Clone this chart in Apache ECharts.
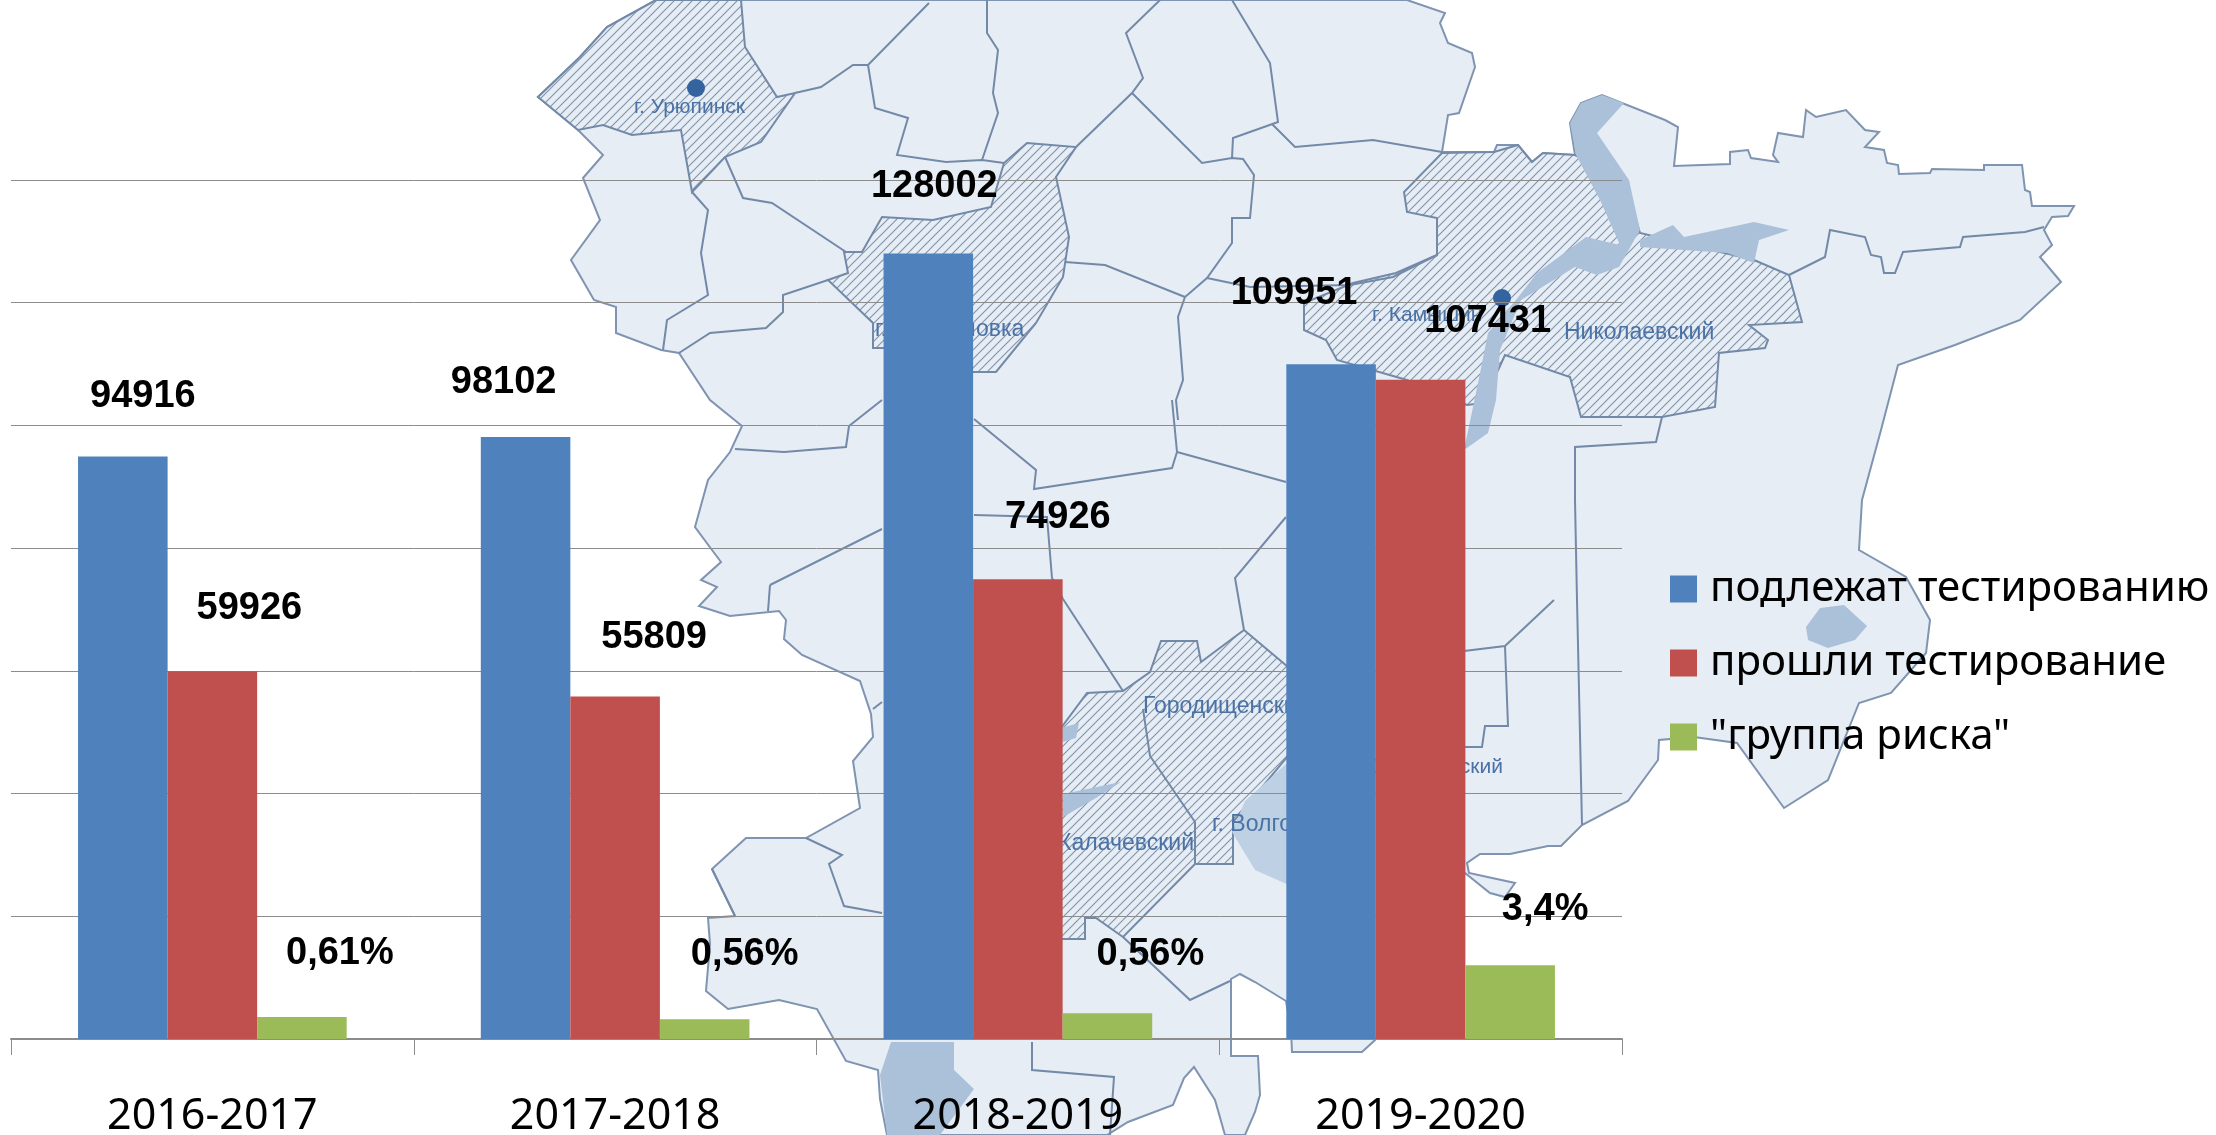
<!DOCTYPE html>
<html>
<head>
<meta charset="utf-8">
<style>html,body{margin:0;background:#fff}#main{width:2216px;height:1135px}</style>
<script src="https://cdn.jsdelivr.net/npm/echarts@6/dist/echarts.min.js"></script>
</head>
<body>
<div id="main"></div>
<script>
var years = ['2016-2017', '2017-2018', '2018-2019', '2019-2020'];
var seriesNames = ['подлежат тестированию', 'прошли тестирование', '"группа риска"'];
var mustTest = [94916, 98102, 128002, 109951];
var passed = [59926, 55809, 74926, 107431];
var riskBars = [3600, 3200, 4200, 12000];
var riskLabels = ['0,61%', '0,56%', '0,56%', '3,4%'];

// label shifts, the labels sit well away from the bars in the source slide
var blueShift = [[20, -41], [-22, -36], [6, -48], [-37, -52]];
var redShift = [[37, -44], [39, -40], [40, -43], [67, -39]];
var greenShift = [[38, -44], [40, -46], [43, -40], [35, -37]];

// background map of the region (decoration only, traced in page pixels)
var mapOutline = [[656,0],[1407,0],[1445,13],[1440,23],[1448,43],[1472,53],[1475,67],[1459,113],[1448,115],[1442,152],[1494,152],[1497,145],[1518,145],[1532,162],[1543,153],[1575,155],[1570,123],[1581,103],[1602,95],[1665,120],[1678,127],[1674,166],[1730,164],[1730,152],[1748,150],[1751,158],[1778,162],[1773,155],[1778,133],[1803,137],[1806,110],[1816,117],[1846,110],[1865,130],[1879,132],[1865,147],[1884,150],[1887,163],[1898,165],[1899,174],[1930,173],[1932,169],[1984,170],[1984,165],[2022,165],[2025,190],[2030,192],[2032,206],[2074,206],[2068,216],[2052,217],[2044,230],[2052,245],[2040,257],[2061,282],[2020,320],[1955,345],[1898,365],[1881,430],[1862,500],[1859,550],[1906,577],[1930,620],[1926,653],[1891,693],[1859,703],[1828,780],[1784,808],[1737,743],[1694,737],[1659,740],[1658,760],[1628,801],[1582,825],[1561,846],[1548,846],[1510,854],[1480,854],[1467,863],[1469,873],[1515,883],[1505,897],[1490,893],[1465,873],[1400,1000],[1375,1040],[1362,1052],[1292,1052],[1291,1030],[1286,1001],[1255,982],[1240,974],[1231,979],[1231,1056],[1258,1056],[1260,1095],[1255,1112],[1245,1135],[1225,1135],[1215,1100],[1194,1067],[1184,1078],[1173,1105],[1128,1122],[1107,1135],[887,1135],[880,1099],[878,1070],[846,1061],[817,1009],[779,1000],[728,1009],[706,991],[710,944],[708,918],[735,916],[712,869],[746,838],[806,838],[860,808],[853,761],[873,737],[871,714],[860,681],[802,655],[784,639],[786,620],[779,611],[730,616],[699,606],[717,587],[701,580],[721,562],[712,550],[695,527],[708,480],[730,452],[742,426],[710,400],[679,353],[661,350],[616,333],[616,307],[594,300],[571,260],[600,220],[583,178],[603,155],[578,130],[538,97],[580,57],[607,27]];
var hatched = [
  [[538,97],[580,57],[607,27],[656,0],[741,0],[745,47],[777,97],[795,93],[761,142],[725,157],[692,192],[681,130],[632,135],[603,125],[578,130]],
  [[1027,143],[1076,147],[1056,177],[1069,237],[1063,277],[1036,323],[996,372],[946,372],[884,348],[873,348],[873,323],[828,280],[848,273],[844,252],[862,252],[882,217],[933,220],[991,207],[1004,163]],
  [[1442,153],[1494,152],[1518,145],[1532,162],[1543,153],[1575,155],[1624,180],[1640,233],[1754,260],[1789,275],[1802,322],[1749,325],[1768,340],[1765,348],[1719,353],[1715,407],[1662,417],[1581,417],[1570,377],[1505,355],[1483,403],[1467,405],[1407,380],[1337,360],[1326,340],[1304,330],[1304,303],[1353,283],[1396,273],[1437,255],[1437,218],[1407,212],[1404,192]],
  [[1161,641],[1197,641],[1201,662],[1244,630],[1288,667],[1288,756],[1233,822],[1233,864],[1195,864],[1123,937],[1096,918],[1085,918],[1085,939],[1061,939],[1061,728],[1087,693],[1123,691],[1150,672]]
];
var water = [
  [[1602,95],[1581,103],[1570,123],[1576,155],[1600,200],[1620,245],[1586,237],[1537,273],[1516,300],[1488,333],[1478,383],[1464,450],[1488,433],[1496,400],[1500,350],[1521,300],[1575,267],[1597,275],[1619,267],[1640,230],[1629,180],[1597,133],[1624,103]],
  [[1640,240],[1673,225],[1684,237],[1754,222],[1789,230],[1759,240],[1754,263],[1727,253],[1640,247]],
  [[1806,627],[1820,608],[1844,605],[1867,626],[1855,640],[1828,648],[1808,640]],
  [[891,1042],[954,1042],[954,1070],[974,1089],[940,1135],[887,1135],[880,1075]],
  [[1061,728],[1079,723],[1076,738],[1063,742]],
  [[1063,794],[1121,782],[1096,798],[1063,817]]
];
var cityBlob = [[1232,832],[1245,801],[1286,764],[1300,764],[1300,890],[1255,870]];
var borders = [
  [[692,192],[708,210],[701,253],[708,295],[667,320],[663,350]],
  [[725,157],[743,198],[772,203],[846,252]],
  [[828,280],[783,295],[783,312],[766,328],[710,333],[679,353]],
  [[795,93],[821,87],[853,65],[868,65],[929,3]],
  [[868,65],[875,108],[908,118],[897,155],[946,162],[982,160],[1004,163]],
  [[987,0],[987,33],[998,50],[993,93],[998,113],[982,160]],
  [[1160,0],[1126,33],[1143,78],[1132,93],[1076,147]],
  [[1132,93],[1202,163],[1232,158],[1243,159],[1254,175],[1250,218],[1232,218],[1232,243],[1207,278],[1185,297],[1178,317],[1183,380],[1176,400],[1178,420]],
  [[1232,0],[1270,63],[1278,122],[1233,138],[1232,158]],
  [[1272,124],[1295,147],[1373,140],[1442,152]],
  [[1207,278],[1250,287],[1350,285],[1393,277],[1437,255]],
  [[1065,262],[1105,265],[1185,297]],
  [[735,449],[784,452],[846,447],[849,426],[882,400]],
  [[770,585],[882,529]],
  [[768,611],[770,585]],
  [[974,419],[1036,470],[1034,489],[1172,468],[1177,452],[1172,400]],
  [[1177,452],[1286,482]],
  [[974,515],[1047,517],[1052,578],[1063,599],[1123,691]],
  [[1143,709],[1150,756],[1195,822],[1195,864]],
  [[712,869],[735,916]],
  [[806,838],[842,855],[829,864],[844,906],[882,913]],
  [[1286,517],[1235,578],[1244,630]],
  [[873,709],[882,702]],
  [[1032,1042],[1032,1070],[1114,1077],[1110,1135]],
  [[1123,937],[1190,1000],[1230,981]],
  [[1577,600],[1582,825]],
  [[1554,600],[1505,646],[1464,651]],
  [[1505,646],[1508,726],[1485,726],[1482,747],[1464,747]],
  [[1575,500],[1575,447],[1656,442],[1662,417]],
  [[1575,500],[1577,600]],
  [[1789,275],[1825,257],[1830,230],[1865,237],[1871,255],[1881,257],[1884,273],[1895,273],[1903,252],[1960,247],[1963,237],[2025,232],[2044,227]]
];
var mapTexts = [
  ['г. Урюпинск', 634, 107, 'left', 21],
  ['г. Михайловка', 875, 330, 'left', 23],
  ['г. Камышин', 1372, 315, 'left', 21],
  ['Николаевский', 1564, 333, 'left', 23],
  ['Городищенский', 1143, 707, 'left', 23],
  ['Калачевский', 1194, 844, 'right', 23],
  ['г. Волгоград', 1212, 825, 'left', 23],
  ['Светлоярский', 1503, 767, 'right', 21]
];
var mapDots = [[696, 88], [1502, 298]];

function hatchTile() {
  var c = document.createElement('canvas');
  c.width = 9; c.height = 9;
  var g = c.getContext('2d');
  g.fillStyle = '#e7edf5';
  g.fillRect(0, 0, 9, 9);
  g.strokeStyle = '#8496ad';
  g.lineWidth = 1.2;
  g.beginPath();
  g.moveTo(-1, 10); g.lineTo(10, -1);
  g.moveTo(-1, 1); g.lineTo(1, -1);
  g.moveTo(8, 10); g.lineTo(10, 8);
  g.stroke();
  return c;
}

var mapEls = [];
function addShape(points, style, closed) {
  mapEls.push({ type: closed ? 'polygon' : 'polyline', silent: true, z: -10, shape: { points: points }, style: style });
}
addShape(mapOutline, { fill: '#e7edf5', stroke: '#7f94b0', lineWidth: 2 }, true);
var tile = hatchTile();
hatched.forEach(function (p) {
  addShape(p, { fill: { image: tile, repeat: 'repeat' }, stroke: '#7389a8', lineWidth: 2 }, true);
});
addShape(cityBlob, { fill: '#bed0e3' }, true);
water.forEach(function (p) {
  addShape(p, { fill: '#abc0d9' }, true);
});
borders.forEach(function (p) {
  addShape(p, { fill: null, stroke: '#7389a8', lineWidth: 2 }, false);
});
mapDots.forEach(function (d) {
  mapEls.push({ type: 'circle', silent: true, z: -9, shape: { cx: d[0], cy: d[1], r: 9 }, style: { fill: '#33649f' } });
});
mapTexts.forEach(function (t) {
  mapEls.push({
    type: 'text', silent: true, z: -9, x: t[1], y: t[2],
    style: { text: t[0], fill: '#4a72a5', fontFamily: 'Liberation Sans', fontSize: t[4], align: t[3], verticalAlign: 'middle' }
  });
});

function barData(values, labels, shifts) {
  return values.map(function (v, i) {
    return { value: v, label: { formatter: String(labels[i]), offset: shifts[i] } };
  });
}
function barSeries(name, color, values, labels, shifts) {
  return {
    name: name,
    type: 'bar',
    barGap: 0,
    barCategoryGap: '33.3%',
    itemStyle: { color: color },
    label: {
      show: true,
      position: 'top',
      distance: 0,
      color: '#000',
      fontFamily: 'Liberation Sans',
      fontWeight: 'bold',
      fontSize: 38,
      lineHeight: 38
    },
    data: barData(values, labels, shifts)
  };
}

var myChart = echarts.init(document.getElementById('main'));
var option = {
  animation: false,
  backgroundColor: '#fff',
  graphic: { elements: mapEls },
  grid: { left: 11, right: 594, top: 180, bottom: 96, outerBoundsMode: 'none' },
  legend: {
    orient: 'vertical',
    left: 1670,
    top: 568,
    itemWidth: 27,
    itemHeight: 27,
    itemGap: 32,
    padding: 0,
    icon: 'rect',
    textStyle: { fontFamily: 'Noto Sans', fontSize: 42, color: '#000', padding: [0, 0, 0, 8] },
    data: seriesNames
  },
  xAxis: {
    type: 'category',
    data: years,
    axisLine: { lineStyle: { color: '#8c8c8c', width: 2 } },
    axisTick: { show: true, length: 16, lineStyle: { color: '#8c8c8c', width: 1 } },
    axisLabel: { margin: 56, color: '#000', fontFamily: 'Noto Sans', fontSize: 43 }
  },
  yAxis: {
    type: 'value',
    min: 0,
    max: 140000,
    interval: 20000,
    axisLine: { show: false },
    axisTick: { show: false },
    axisLabel: { show: false },
    splitLine: { lineStyle: { color: '#8c8c8c', width: 1 } }
  },
  series: [
    barSeries(seriesNames[0], '#4f81bd', mustTest, mustTest, blueShift),
    barSeries(seriesNames[1], '#c0504d', passed, passed, redShift),
    barSeries(seriesNames[2], '#9bbb59', riskBars, riskLabels, greenShift)
  ]
};
myChart.setOption(option);
</script>
</body>
</html>
